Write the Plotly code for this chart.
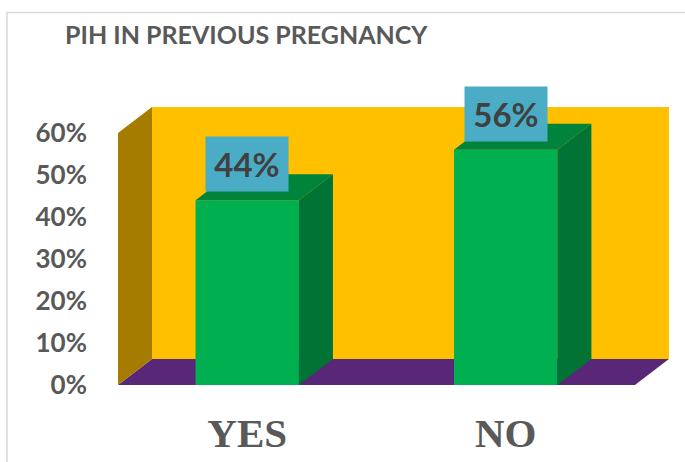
import plotly.graph_objects as go

# ---- data ----
categories = ["YES", "NO"]
values = [44, 56]            # percent
data_labels = ["44%", "56%"]
y_ticks = [0, 10, 20, 30, 40, 50, 60]
title_text = "PIH IN PREVIOUS PREGNANCY"

# ---- style ----
FRONT = "#00B050"
SIDE = "#007335"
TOP = "#00843C"
WALL_BACK = "#FFC000"
WALL_SIDE = "#A67C00"
FLOOR = "#582777"
LABEL_BG = "#4BACC6"
TXT = "#595959"

bar_w = 0.4
dx = 0.1316   # depth offset in category units
dy = 6.2      # depth offset in percent units
y_top = 60
x0, x1 = -0.5, len(categories) - 0.5

shapes = []
# floor
shapes.append(dict(type="path", xref="x", yref="y", layer="below", line=dict(width=0),
                   fillcolor=FLOOR,
                   path=f"M{x0},0 L{x1},0 L{x1+dx},{dy} L{x0+dx},{dy} Z"))
# back wall
shapes.append(dict(type="path", xref="x", yref="y", layer="below", line=dict(width=0),
                   fillcolor=WALL_BACK,
                   path=f"M{x0+dx},{dy} L{x1+dx},{dy} L{x1+dx},{y_top+dy} L{x0+dx},{y_top+dy} Z"))
# left wall
shapes.append(dict(type="path", xref="x", yref="y", layer="below", line=dict(width=0),
                   fillcolor=WALL_SIDE,
                   path=f"M{x0},0 L{x0+dx},{dy} L{x0+dx},{y_top+dy} L{x0},{y_top} Z"))
# bar side and top faces
for i, v in enumerate(values):
    l, r = i - bar_w / 2, i + bar_w / 2
    shapes.append(dict(type="path", xref="x", yref="y", layer="above", line=dict(width=0),
                       fillcolor=SIDE,
                       path=f"M{r},0 L{r+dx},{dy} L{r+dx},{v+dy} L{r},{v} Z"))
    shapes.append(dict(type="path", xref="x", yref="y", layer="above", line=dict(width=0),
                       fillcolor=TOP,
                       path=f"M{l},{v} L{r},{v} L{r+dx},{v+dy} L{l+dx},{v+dy} Z"))

L, R, T, B = 118, 14, 107, 77
W, H = 685, 462
pw, ph = W - L - R, H - T - B
# chart frame (light grey border)
shapes.append(dict(type="rect", xref="paper", yref="paper", layer="above",
                   x0=(7 - L) / pw, x1=(W + 3 - L) / pw,
                   y0=(H - B - (H + 3)) / ph, y1=(H - B - 12.5) / ph,
                   line=dict(color="#D9D9D9", width=1.5), fillcolor="rgba(0,0,0,0)"))

fig = go.Figure()
fig.add_trace(go.Bar(x=list(range(len(categories))), y=values, width=bar_w,
                     marker=dict(color=FRONT, line=dict(width=0)),
                     hoverinfo="skip", showlegend=False))

annotations = []
for i, (v, t) in enumerate(zip(values, data_labels)):
    annotations.append(dict(x=i, y=v, xref="x", yref="y", text=f"<b>{t}</b>",
                            showarrow=False, xanchor="center", yanchor="bottom", yshift=8,
                            width=82, height=54, bgcolor=LABEL_BG, borderpad=0,
                            font=dict(family="Lato", size=33, color="#404040")))

fig.update_layout(
    width=W, height=H,
    margin=dict(l=L, r=R, t=T, b=B, autoexpand=False),
    paper_bgcolor="white", plot_bgcolor="rgba(0,0,0,0)",
    title=dict(text=f"<b>{title_text}</b>", x=65/W, xref="container", xanchor="left",
               y=1 - 35/H, yref="container", yanchor="middle",
               font=dict(family="Lato", size=25, color=TXT)),
    xaxis=dict(range=[x0, x1 + dx + 0.008], tickvals=list(range(len(categories))),
               ticktext=[f"<b>{c}</b>" for c in categories],
               showgrid=False, zeroline=False, showline=False, automargin=False,
               ticks="outside", ticklen=12, tickcolor="rgba(0,0,0,0)",
               tickfont=dict(family="Liberation Serif", size=41, color=TXT)),
    yaxis=dict(range=[0, y_top + dy], tickvals=y_ticks,
               ticktext=[f"<b>{v}%</b>" for v in y_ticks],
               showgrid=False, zeroline=False, showline=False, automargin=False,
               ticklabelstandoff=30,
               tickfont=dict(family="Lato", size=26, color=TXT)),
    shapes=shapes,
    annotations=annotations,
)

fig.write_html("out.html", config={"displayModeBar": False},
               post_script="document.body.style.margin='0';document.body.style.overflow='hidden';")
